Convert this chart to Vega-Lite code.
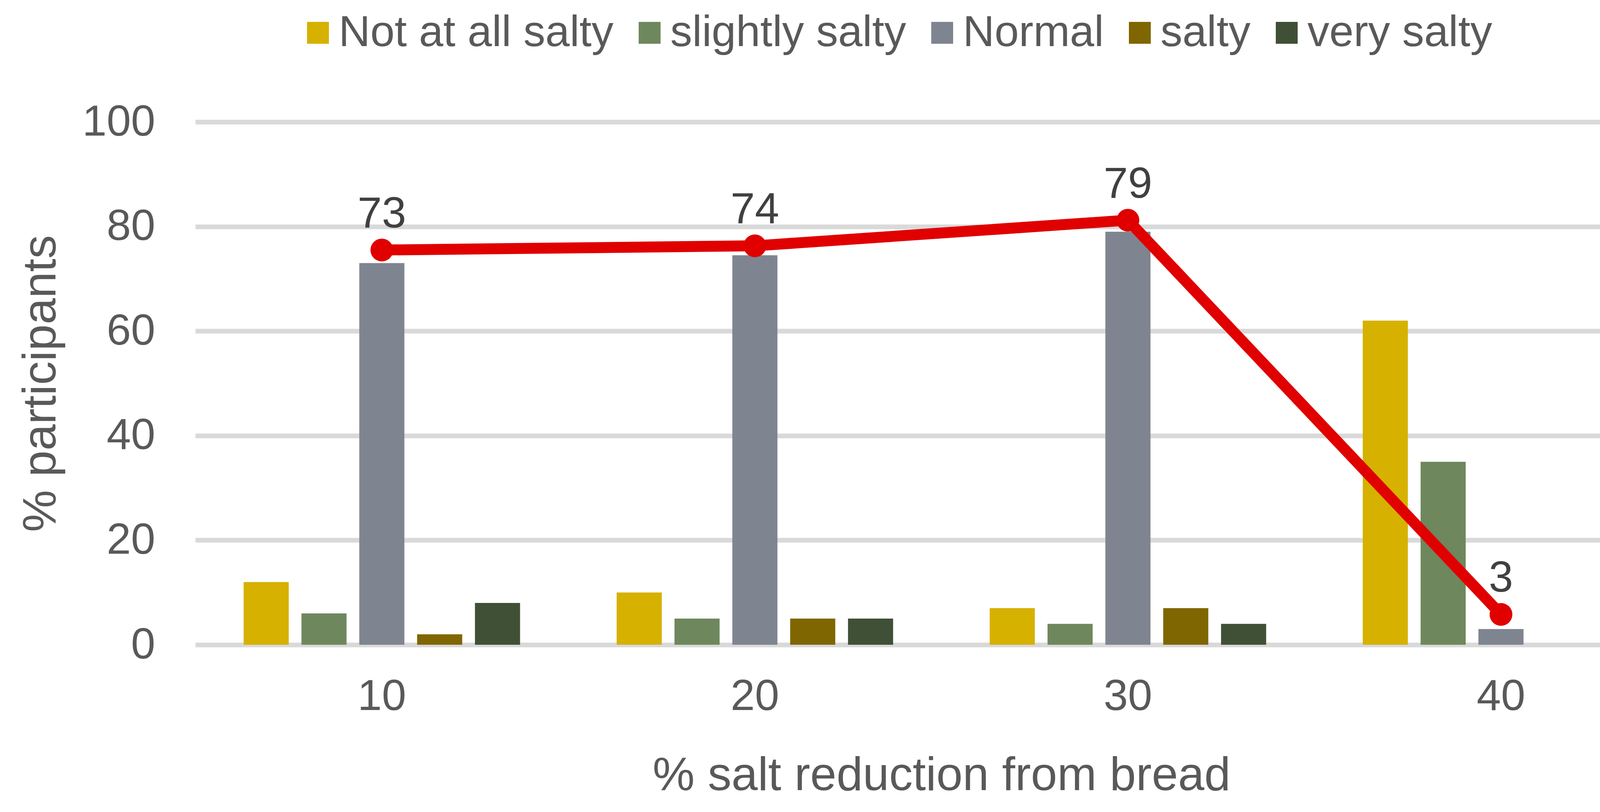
{
  "$schema": "https://vega.github.io/schema/vega-lite/v6.json",
  "width": 3820,
  "height": 1338,
  "autosize": {"type": "none"},
  "padding": {"left": 500, "top": 312, "right": 18, "bottom": 428},
  "background": "white",
  "datasets": {
    "bars": [
      {"reduction": "10", "rating": "Not at all salty", "pct": 12},
      {"reduction": "10", "rating": "slightly salty", "pct": 6},
      {"reduction": "10", "rating": "Normal", "pct": 73},
      {"reduction": "10", "rating": "salty", "pct": 2},
      {"reduction": "10", "rating": "very salty", "pct": 8},
      {"reduction": "20", "rating": "Not at all salty", "pct": 10},
      {"reduction": "20", "rating": "slightly salty", "pct": 5},
      {"reduction": "20", "rating": "Normal", "pct": 74.5},
      {"reduction": "20", "rating": "salty", "pct": 5},
      {"reduction": "20", "rating": "very salty", "pct": 5},
      {"reduction": "30", "rating": "Not at all salty", "pct": 7},
      {"reduction": "30", "rating": "slightly salty", "pct": 4},
      {"reduction": "30", "rating": "Normal", "pct": 79},
      {"reduction": "30", "rating": "salty", "pct": 7},
      {"reduction": "30", "rating": "very salty", "pct": 4},
      {"reduction": "40", "rating": "Not at all salty", "pct": 62},
      {"reduction": "40", "rating": "slightly salty", "pct": 35},
      {"reduction": "40", "rating": "Normal", "pct": 3},
      {"reduction": "40", "rating": "salty", "pct": 0},
      {"reduction": "40", "rating": "very salty", "pct": 0}
    ],
    "trend": [
      {"reduction": "10", "value": 75.5, "label": "73"},
      {"reduction": "20", "value": 76.3, "label": "74"},
      {"reduction": "30", "value": 81.2, "label": "79"},
      {"reduction": "40", "value": 5.8, "label": "3"}
    ]
  },
  "encoding": {
    "x": {
      "field": "reduction",
      "type": "ordinal",
      "scale": {"domain": ["10", "20", "30", "40"], "paddingInner": 0, "paddingOuter": 0},
      "axis": {
        "title": "% salt reduction from bread",
        "labelAngle": 0,
        "labelPadding": 78,
        "titlePadding": 87
      }
    }
  },
  "layer": [
    {
      "data": {"name": "bars"},
      "mark": {"type": "bar"},
      "encoding": {
        "xOffset": {
          "field": "rating",
          "scale": {
            "domain": ["Not at all salty", "slightly salty", "Normal", "salty", "very salty"],
            "paddingInner": 0.22,
            "paddingOuter": 0.835
          }
        },
        "y": {
          "field": "pct",
          "type": "quantitative",
          "scale": {"domain": [0, 100], "nice": false},
          "axis": {
            "title": "% participants",
            "values": [0, 20, 40, 60, 80, 100],
            "labelPadding": 103,
            "labelLimit": 600,
            "titlePadding": 134
          }
        },
        "color": {
          "field": "rating",
          "type": "nominal",
          "scale": {
            "domain": ["Not at all salty", "slightly salty", "Normal", "salty", "very salty"],
            "range": ["#D6B100", "#6E875D", "#7F8590", "#806600", "#405036"]
          },
          "legend": {
            "title": null,
            "orient": "none",
            "direction": "horizontal",
            "legendX": 258,
            "legendY": -284,
            "symbolType": "square",
            "symbolSize": 3136,
            "symbolStrokeWidth": 0,
            "symbolOpacity": 1,
            "labelOffset": -3,
            "columnPadding": 36,
            "padding": 0,
            "labelFontSize": 112,
            "labelColor": "#595959",
            "labelFont": "Liberation Sans",
            "labelLimit": 1000
          }
        }
      }
    },
    {
      "data": {"name": "trend"},
      "mark": {"type": "line", "color": "#E00000", "strokeWidth": 28},
      "encoding": {
        "y": {"field": "value", "type": "quantitative"}
      }
    },
    {
      "data": {"name": "trend"},
      "mark": {"type": "point", "filled": true, "color": "#E00000", "size": 3400, "opacity": 1},
      "encoding": {
        "y": {"field": "value", "type": "quantitative"}
      }
    },
    {
      "data": {"name": "trend"},
      "mark": {"type": "text", "dy": -92, "baseline": "middle", "fontSize": 112, "font": "Liberation Sans", "color": "#404040"},
      "encoding": {
        "y": {"field": "value", "type": "quantitative"},
        "text": {"field": "label"}
      }
    }
  ],
  "config": {
    "view": {"stroke": null},
    "font": "Liberation Sans",
    "axis": {
      "domain": false,
      "ticks": false,
      "tickSize": 0,
      "labelFont": "Liberation Sans",
      "labelFontSize": 112,
      "labelColor": "#595959",
      "titleFont": "Liberation Sans",
      "titleFontSize": 121,
      "titleFontWeight": "normal",
      "titleColor": "#595959",
      "gridColor": "#D9D9D9",
      "gridWidth": 12
    },
    "axisX": {"grid": false},
    "axisY": {"grid": true}
  }
}
